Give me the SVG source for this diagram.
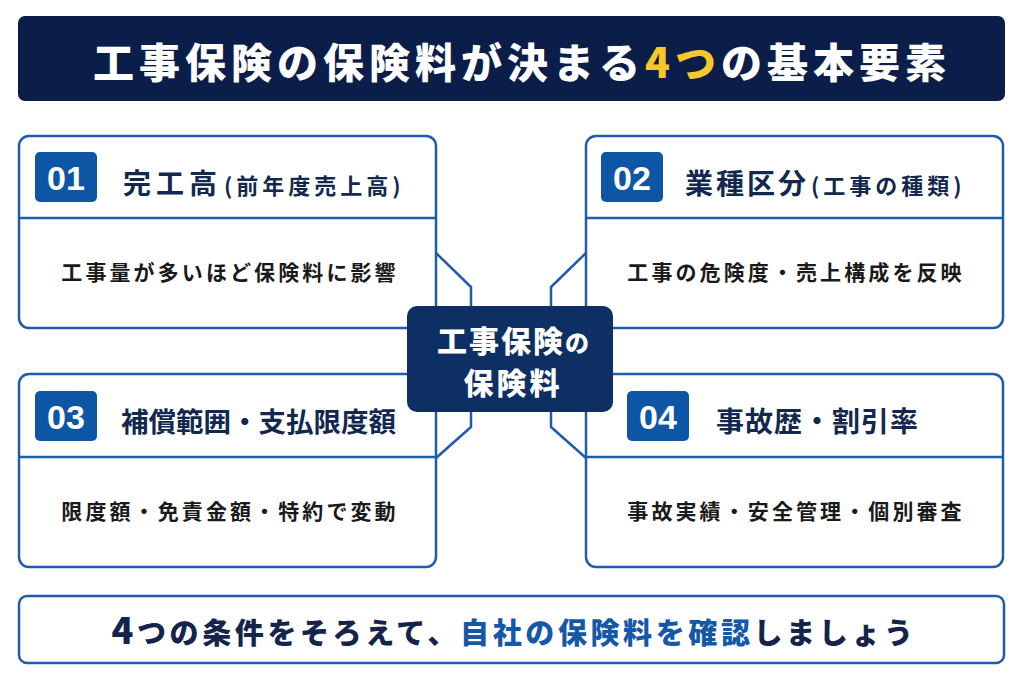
<svg xmlns="http://www.w3.org/2000/svg" width="1024" height="683" viewBox="0 0 1024 683">
<style>
.jp{font-family:"Noto Sans CJK JP","Noto Sans",sans-serif;}
.box{fill:#fff;stroke:#1E5DAE;stroke-width:2.5;}
.div{stroke:#1E5DAE;stroke-width:2.5;}
.badge{fill:#0D56A6;}
.num{font-family:"Liberation Sans",Arial,sans-serif;font-weight:700;font-size:34px;fill:#fff;text-anchor:middle;}
.ttl{font-weight:700;font-size:28px;fill:#13284F;}
.sub{font-weight:700;font-size:22px;fill:#13284F;letter-spacing:4px;}
.body{font-weight:700;font-size:21px;fill:#1A1A1A;letter-spacing:3.1px;text-anchor:middle;}
.con{fill:none;stroke:#1E5DAE;stroke-width:2.5;stroke-linejoin:round;}
</style>
<rect width="1024" height="683" fill="#fff"/>
<g id="title">
<rect x="18" y="16" width="987" height="85" rx="7" fill="#0B1E49"/>
<text class="jp" x="522" y="78" text-anchor="middle" font-size="41" font-weight="900" letter-spacing="5" fill="#fff">工事保険の保険料が決まる<tspan fill="#F7C829">4つ</tspan>の基本要素</text>
</g>
<g id="connectors">
<polyline class="con" points="436,253 471,287 471,307"/>
<polyline class="con" points="586,253 551,287 551,307"/>
<polyline class="con" points="471,411 471,427 436,458"/>
<polyline class="con" points="551,411 551,427 586,458"/>
</g>
<g id="node01">
<rect class="box" x="19" y="136" width="417" height="192" rx="10"/>
<line class="div" x1="19" y1="218" x2="436" y2="218"/>
<rect class="badge" x="35" y="152" width="62" height="50" rx="5"/>
<text class="num" x="66" y="190">01</text>
<text class="jp" x="123" y="194"><tspan class="ttl" style="letter-spacing:5px">完工高</tspan><tspan class="sub" dx="2">(前年度売上高)</tspan></text>
<text class="jp body" x="230" y="280">工事量が多いほど保険料に影響</text>
</g>
<g id="node02">
<rect class="box" x="586" y="136" width="417" height="192" rx="10"/>
<line class="div" x1="586" y1="218" x2="1003" y2="218"/>
<rect class="badge" x="601" y="152" width="62" height="50" rx="5"/>
<text class="num" x="632" y="190">02</text>
<text class="jp" x="685" y="194"><tspan class="ttl" style="letter-spacing:3px">業種区分</tspan><tspan class="sub" dx="2">(工事の種類)</tspan></text>
<text class="jp body" x="796" y="280">工事の危険度・売上構成を反映</text>
</g>
<g id="node03">
<rect class="box" x="19" y="374" width="417" height="193" rx="10"/>
<line class="div" x1="19" y1="457" x2="436" y2="457"/>
<rect class="badge" x="35" y="391" width="62" height="50" rx="5"/>
<text class="num" x="66" y="429">03</text>
<text class="jp ttl" x="121" y="432" style="letter-spacing:0px;font-size:27.5px">補償範囲・支払限度額</text>
<text class="jp body" x="230" y="519">限度額・免責金額・特約で変動</text>
</g>
<g id="node04">
<rect class="box" x="586" y="374" width="417" height="193" rx="10"/>
<line class="div" x1="586" y1="457" x2="1003" y2="457"/>
<rect class="badge" x="627" y="391" width="62" height="50" rx="5"/>
<text class="num" x="658" y="429">04</text>
<text class="jp ttl" x="716" y="432" style="letter-spacing:1px">事故歴・割引率</text>
<text class="jp body" x="796" y="519">事故実績・安全管理・個別審査</text>
</g>
<g id="center">
<rect x="407" y="306" width="206" height="106" rx="10" fill="#0E2F64"/>
<text class="jp" x="514" y="352" text-anchor="middle" font-size="30" font-weight="900" letter-spacing="2" fill="#fff">工事保険<tspan font-size="24">の</tspan></text>
<text class="jp" x="513" y="394" text-anchor="middle" font-size="30" font-weight="900" letter-spacing="3" fill="#fff">保険料</text>
</g>
<g id="footer">
<rect x="19" y="596" width="985" height="67" rx="8" fill="#fff" stroke="#1E5DAE" stroke-width="2.5"/>
<text class="jp" x="514" y="644" text-anchor="middle" font-size="29" font-weight="900" letter-spacing="3.6" fill="#14244A"><tspan font-size="36">4</tspan>つの条件をそろえて、<tspan fill="#1558A8">自社の保険料を確認</tspan>しましょう</text>
</g>
</svg>
